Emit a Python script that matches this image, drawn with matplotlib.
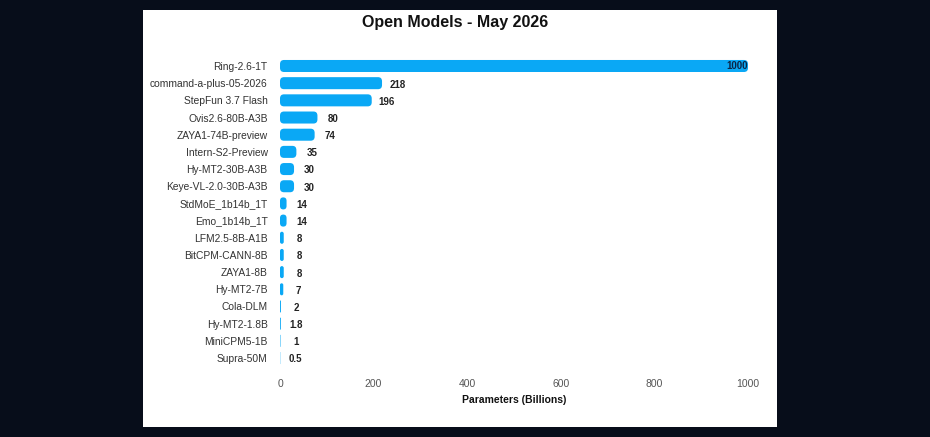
import matplotlib.pyplot as plt
from matplotlib.patches import FancyBboxPatch, Rectangle

# Data
models = ["Ring-2.6-1T", "command-a-plus-05-2026", "StepFun 3.7 Flash", "Ovis2.6-80B-A3B",
          "ZAYA1-74B-preview", "Intern-S2-Preview", "Hy-MT2-30B-A3B", "Keye-VL-2.0-30B-A3B",
          "StdMoE_1b14b_1T", "Emo_1b14b_1T", "LFM2.5-8B-A1B", "BitCPM-CANN-8B",
          "ZAYA1-8B", "Hy-MT2-7B", "Cola-DLM", "Hy-MT2-1.8B", "MiniCPM5-1B", "Supra-50M"]
params = [1000, 218, 196, 80, 74, 35, 30, 30, 14, 14, 8, 8, 8, 7, 2, 1.8, 1, 0.5]
labels = ["1000", "218", "196", "80", "74", "35", "30", "30", "14", "14", "8", "8", "8", "7",
          "2", "1.8", "1", "0.5"]

plt.rcParams["font.family"] = ["Liberation Sans", "DejaVu Sans"]

bar_color = "#0aa8f5"

fig = plt.figure(figsize=(9.3, 4.37), dpi=100)
fig.patch.set_facecolor("#070d1a")
fig.patches.append(Rectangle((143 / 930, 10 / 437), 634 / 930, 417 / 437,
                             transform=fig.transFigure, facecolor="white",
                             edgecolor="none", zorder=-5))

ax = fig.add_axes([280 / 930, 1 - 366.6 / 437, 468 / 930, 309.2 / 437])
ax.set_facecolor("none")
ax.set_xlim(0, 1000)
ax.set_ylim(len(models) - 0.5, -0.5)

h = 0.7
r = 8.5
for i, v in enumerate(params):
    rs = min(r, v / 2)
    p = FancyBboxPatch((0, i - h / 2), v, h,
                       boxstyle="round,pad=0,rounding_size=%f" % rs,
                       mutation_aspect=0.24 / r, facecolor=bar_color,
                       edgecolor="none", clip_on=False)
    ax.add_patch(p)
    if v >= 500:
        ax.text(v - 1, i, labels[i], ha="right", va="center", fontsize=7,
                fontweight="bold", color="#0b2545")
    else:
        ax.annotate(labels[i], (v, i), xytext=(11, -1), textcoords="offset points",
                    ha="center", va="center", fontsize=7, fontweight="bold", color="#222222")

ax.set_yticks(range(len(models)))
ax.set_yticklabels(models, fontsize=7.4, color="#333333")
ax.set_xticks([0, 200, 400, 600, 800, 1000])
ax.tick_params(axis="y", length=0, pad=9)
ax.tick_params(axis="x", length=0, pad=9, labelsize=7.5, labelcolor="#555555")
for s in ax.spines.values():
    s.set_visible(False)

ax.set_xlabel("Parameters (Billions)", fontsize=7.5, fontweight="bold", color="#111111",
              labelpad=4)
fig.text(455 / 930, 1 - 22.5 / 437, "Open Models - May 2026", ha="center", va="center",
         fontsize=11.5, fontweight="bold", color="#111111")

fig.savefig("out.png", dpi=100, facecolor=fig.get_facecolor())
